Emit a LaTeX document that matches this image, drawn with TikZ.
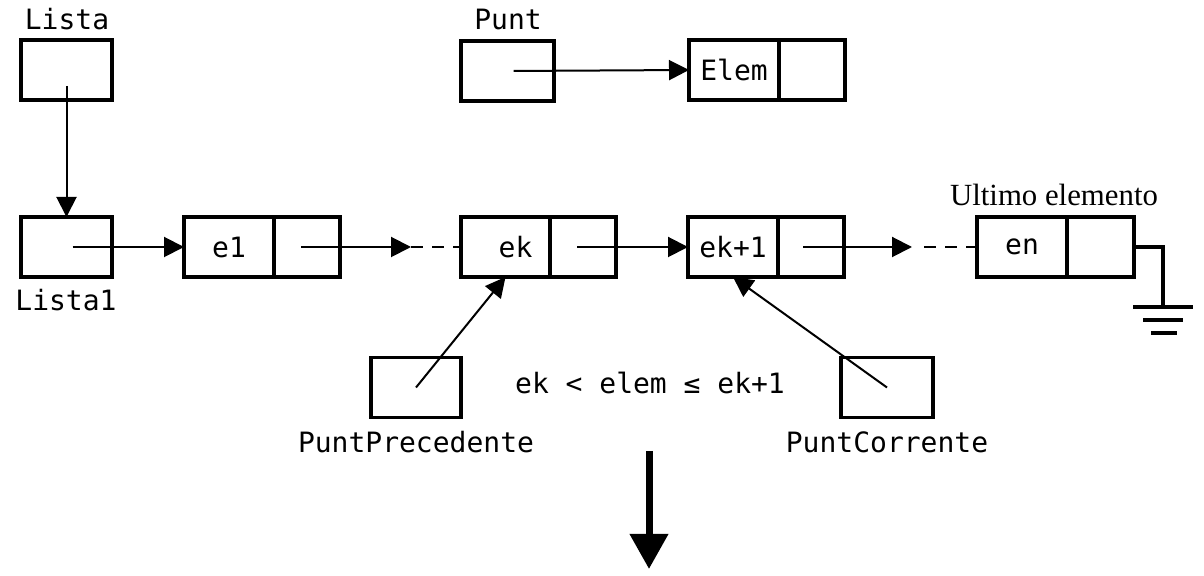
\documentclass[tikz,border=0pt]{standalone}
\usepackage{fontspec}
\setmainfont{Liberation Serif}
\setmonofont{DejaVu Sans Mono}
\usetikzlibrary{arrows.meta,positioning}

\begin{document}
\begin{tikzpicture}[x=0.5pt,y=-0.5pt]
    \useasboundingbox (0,0) rectangle (1204,576);
    \tikzstyle{cella}=[draw,line width=1.6pt,inner sep=0pt,outer sep=0pt,minimum height=30pt,font=\ttfamily\fontsize{14}{16}\selectfont]
    \tikzstyle{testo}=[inner sep=0pt,font=\ttfamily\fontsize{14}{16}\selectfont]
    \tikzstyle{freccia}=[line width=1pt,-{Triangle[length=10pt,width=10pt]}]
    \tikzstyle{tratteggio}=[line width=1pt,dash pattern=on 6pt off 4.5pt]
    \tikzstyle{filo}=[line width=1.6pt]

    %%%%%%%%%%%%%%%%%%%%%%%%%%%%%%%%%%%%%% Puntatori in alto
    \node[cella,minimum width=45.5pt] (lista) at (66.5,70) {};
    \node[testo] (listaL) at (67,19) {Lista};
    \node[cella,minimum width=46.5pt] (punt) at (507.5,71) {};
    \node[testo] (puntL) at (508,19) {Punt};
    \node[cella,minimum width=45pt] (elem) at (734,70) {Elem};
    \node[cella,minimum width=33pt,right=0pt of elem] (elemp) {};

    %%%%%%%%%%%%%%%%%%%%%%%%%%%%%%%%%%%%%% Lista
    \node[cella,minimum width=45.5pt] (lista1) at (66.5,247) {};
    \node[testo] (lista1L) at (66,300) {Lista1};
    \node[cella,minimum width=45pt] (e1) at (229,247) {e1};
    \node[cella,minimum width=33pt,right=0pt of e1] (e1p) {};
    \node[cella,minimum width=44.5pt] (ek) at (505.5,247) {\hspace{10pt}ek};
    \node[cella,minimum width=33pt,right=0pt of ek] (ekp) {};
    \node[cella,minimum width=45pt] (ek1) at (733,247) {ek+1};
    \node[cella,minimum width=33pt,right=0pt of ek1] (ek1p) {};
    \node[cella,minimum width=45pt] (en) at (1022,247) {en};
    \node[cella,minimum width=33.5pt,right=0pt of en] (enp) {};
    \node[inner sep=0pt,font=\rmfamily\fontsize{15.4}{18}\selectfont] (ultimo) at (1054,195) {Ultimo elemento};

    \coordinate (t1) at (411,247);
    \coordinate (t2) at (912,247);

    \draw[freccia] ([yshift=-8pt]lista.center) -- (lista1.north);
    \draw[freccia] ([xshift=3pt]punt.center) -- (elem.west);
    \draw[freccia] ([xshift=3pt]lista1.center) -- (e1.west);
    \draw[freccia] ([xshift=-3pt]e1p.center) -- (t1);
    \draw[tratteggio] (t1) -- (ek.west);
    \draw[freccia] ([xshift=-3pt]ekp.center) -- (ek1.west);
    \draw[freccia] ([xshift=-4pt]ek1p.center) -- (t2);
    \draw[tratteggio,shorten <=6pt] (t2) -- (en.west);

    %%%%%%%%%%%%%%%%%%%%%%%%%%%%%%%%%%%%%% Terra
    \coordinate (g) at (1163,307);
    \draw[filo] (enp.east) -| (g);
    \draw[filo] (1133,307) -- (1193,307);
    \draw[filo] (1143,320) -- (1183,320);
    \draw[filo] (1151,333) -- (1177,333);

    %%%%%%%%%%%%%%%%%%%%%%%%%%%%%%%%%%%%%% Puntatori di scorrimento
    \node[cella,minimum width=45pt] (pp) at (416,387.5) {};
    \node[testo] (ppL) at (416,442) {PuntPrecedente};
    \node[cella,minimum width=46pt] (pc) at (887,387.5) {};
    \node[testo] (pcL) at (887,442) {PuntCorrente};
    \draw[freccia] (pp.center) -- (ek.south);
    \draw[freccia] (pc.center) -- (ek1.south);

    \node[testo] (cond) at (650,383) {ek < elem ≤ ek+1};

    \coordinate (fa) at (649,451);
    \coordinate (fb) at (649,569);
    \draw[line width=3.5pt,-{Triangle[length=17.5pt,width=18.5pt]}] (fa) -- (fb);
\end{tikzpicture}
\end{document}
